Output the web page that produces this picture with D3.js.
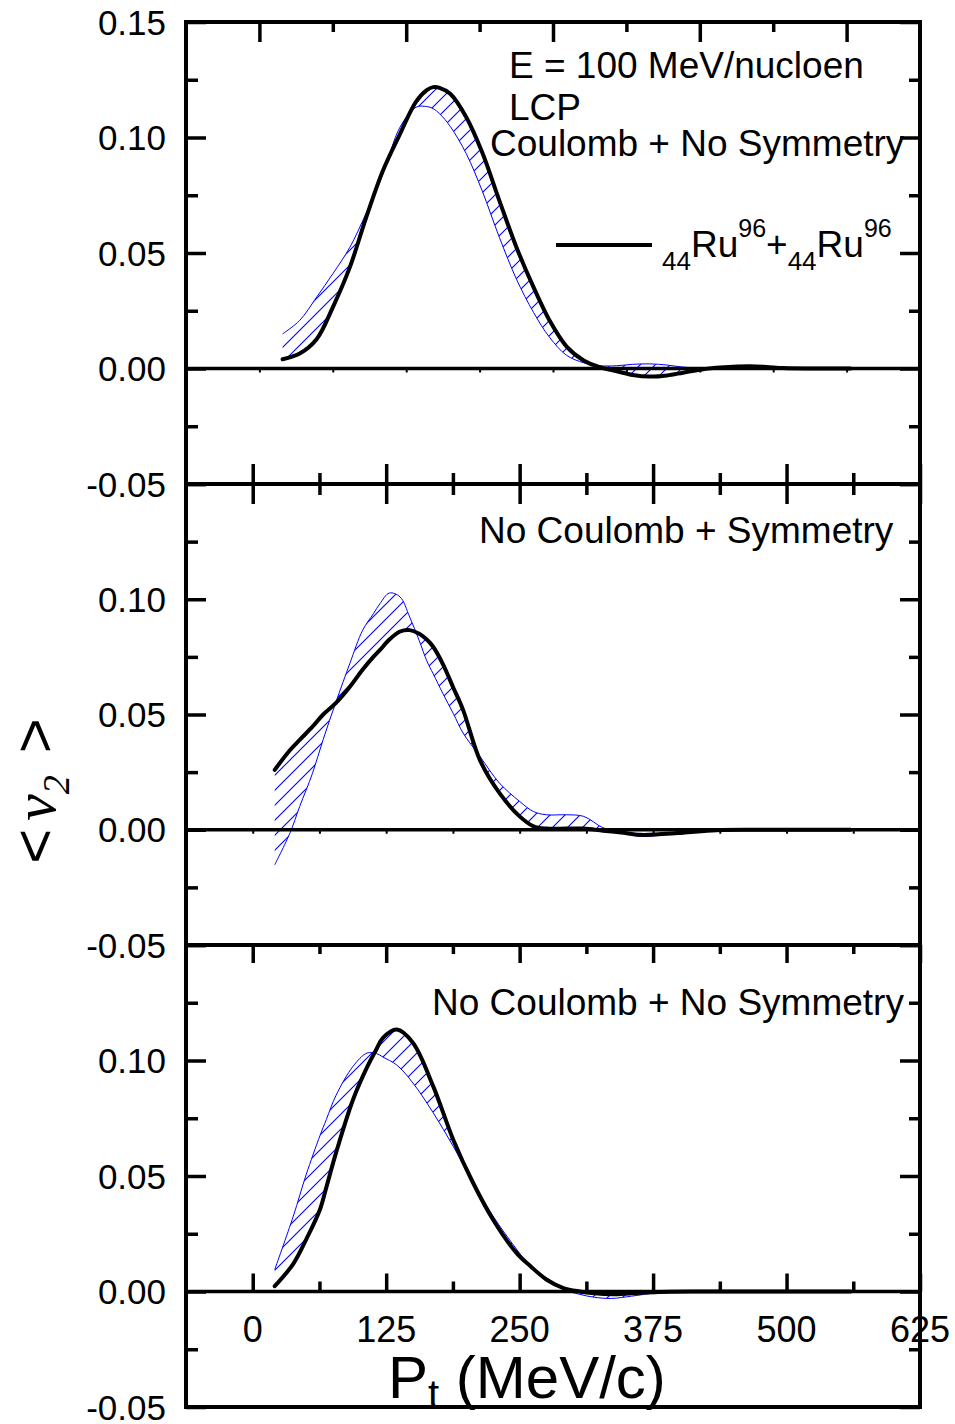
<!DOCTYPE html>
<html>
<head>
<meta charset="utf-8">
<script src="https://cdn.jsdelivr.net/npm/d3@7"></script>
<style>
  body { margin: 0; background: #fff; }
  svg { display: block; }
  text { font-family: 'Liberation Sans', Arial, Helvetica, sans-serif; fill: #000; }
</style>
</head>
<body>
<svg id="chart" width="955" height="1424"></svg>
<script>
// ---- data: transverse momentum (MeV/c) and elliptic flow <v2> ----
// Panel 1: Coulomb + No Symmetry
const ptTop = [28, 44, 60, 75, 91, 106, 122, 138, 153, 163, 169, 175, 185, 200, 215, 231, 247, 263, 278, 294, 310, 325, 341, 356, 372, 388, 403, 419, 434, 450, 466, 481, 497, 520, 560];
const v2SolidTop = [0.0040, 0.0065, 0.0128, 0.0265, 0.0439, 0.0650, 0.0857, 0.1016, 0.1155, 0.1205, 0.1218, 0.1215, 0.1189, 0.1088, 0.0935, 0.0727, 0.0525, 0.0352, 0.0208, 0.0095, 0.0035, 0.0006, -0.0012, -0.0028, -0.0035, -0.0030, -0.0018, -0.0005, 0.0003, 0.0008, 0.0010, 0.0007, 0.0002, 0.0000, 0.0000];
const v2BandTop = [0.0150, 0.0208, 0.0310, 0.0410, 0.0525, 0.0670, 0.0843, 0.1045, 0.1131, 0.1134, 0.1125, 0.1103, 0.1048, 0.0930, 0.0768, 0.0568, 0.0387, 0.0243, 0.0135, 0.0057, 0.0025, 0.0012, 0.0012, 0.0018, 0.0020, 0.0015, 0.0006, 0.0002, 0.0000, 0.0000, 0.0002, 0.0000, 0.0000, 0.0000, 0.0000];

// Panel 2: No Coulomb + Symmetry
const ptMid = [20.6, 35, 44, 56, 66, 78, 91, 103, 113, 119, 128, 138, 147, 156, 163, 169, 178, 188, 197, 213, 231, 250, 263, 275, 294, 310, 328, 345, 363, 380, 403, 434, 470, 500, 560];
const v2SolidMid = [0.0260, 0.0346, 0.0390, 0.0447, 0.0500, 0.0550, 0.0620, 0.0695, 0.0750, 0.0779, 0.0825, 0.0860, 0.0866, 0.0850, 0.0825, 0.0794, 0.0720, 0.0615, 0.0520, 0.0300, 0.0160, 0.0058, 0.0015, 0.0005, 0.0005, 0.0005, -0.0004, -0.0012, -0.0022, -0.0020, -0.0013, -0.0002, 0.0000, 0.0000, 0.0000];
const v2BandMid = [-0.0152, -0.0013, 0.0101, 0.0245, 0.0392, 0.0555, 0.0722, 0.0866, 0.0937, 0.0980, 0.1027, 0.1010, 0.0923, 0.0820, 0.0733, 0.0677, 0.0592, 0.0503, 0.0420, 0.0317, 0.0203, 0.0123, 0.0079, 0.0065, 0.0065, 0.0058, 0.0009, -0.0012, -0.0029, -0.0025, -0.0013, -0.0003, 0.0000, 0.0000, 0.0000];

// Panel 3: No Coulomb + No Symmetry
const ptBot = [20.6, 38, 50, 63, 69, 78, 94, 107, 116, 122, 135, 150, 169, 188, 206, 225, 247, 260, 275, 291, 306, 320, 336, 355, 380, 420, 560];
const v2SolidBot = [0.0023, 0.0120, 0.0225, 0.0355, 0.0452, 0.0600, 0.0831, 0.0970, 0.1050, 0.1098, 0.1134, 0.1077, 0.0889, 0.0655, 0.0474, 0.0312, 0.0167, 0.0110, 0.0052, 0.0015, 0.0000, -0.0008, -0.0012, -0.0008, -0.0002, 0.0000, 0.0000];
const v2BandBot = [0.0095, 0.0326, 0.0505, 0.0675, 0.0745, 0.0849, 0.0975, 0.1032, 0.1030, 0.1015, 0.0980, 0.0903, 0.0774, 0.0627, 0.0476, 0.0327, 0.0184, 0.0110, 0.0060, 0.0009, -0.0012, -0.0025, -0.0030, -0.0020, -0.0005, 0.0000, 0.0000];

// ---- axis ticks and labels ----
const xTickValues = [0, 125, 250, 375, 500, 625];
const xTickLabels = ["0", "125", "250", "375", "500", "625"];
const xMinorValues = [62.5, 187.5, 312.5, 437.5, 562.5];
const yTickValues = [-0.05, 0.00, 0.05, 0.10, 0.15];
const yTickLabels = ["-0.05", "0.00", "0.05", "0.10", "0.15"];
const yMinorValues = [-0.025, 0.025, 0.075, 0.125];
const topMajorValues = [1, 3, 5, 7, 9];
const topMinorValues = [2, 4, 6, 8];

const panelTitles = ["Coulomb + No Symmetry", "No Coulomb + Symmetry", "No Coulomb + No Symmetry"];

// ---- layout ----
const svg = d3.select("#chart");
const left = 186, right = 920;
const edges = [22, 484, 945, 1407];
const BLUE = "#0000ff";
const smooth = d3.curveCatmullRom.alpha(0.5);

const x = d3.scaleLinear().domain([-62.5, 625]).range([left, right]);
const xTop = d3.scaleLinear().domain([0, 10]).range([left, right]);

// diagonal hatch used between the two curves
const defs = svg.append("defs");
defs.append("pattern")
  .attr("id", "hatch")
  .attr("patternUnits", "userSpaceOnUse")
  .attr("width", 15).attr("height", 15)
  .append("path")
  .attr("d", "M-2,2 L2,-2 M0,15 L15,0 M13,17 L17,13")
  .attr("stroke", BLUE).attr("stroke-width", 1.1);

const panels = [
  { pt: ptTop, solid: v2SolidTop, band: v2BandTop, title: panelTitles[0] },
  { pt: ptMid, solid: v2SolidMid, band: v2BandMid, title: panelTitles[1] },
  { pt: ptBot, solid: v2SolidBot, band: v2BandBot, title: panelTitles[2] }
];

const titlePos = [[490, 156], [479, 543], [432, 1015]];

panels.forEach((p, i) => {
  const y = d3.scaleLinear().domain([-0.05, 0.15]).range([edges[i + 1], edges[i]]);
  p.y = y;
  const rows = p.pt.map((v, k) => ({ pt: v, s: p.solid[k], b: p.band[k] }));
  const g = svg.append("g");

  // hatched band between the two calculations
  g.append("path")
    .datum(rows)
    .attr("d", d3.area().curve(smooth)
      .x(d => x(d.pt)).y0(d => y(d.b)).y1(d => y(d.s)))
    .attr("fill", "url(#hatch)");

  g.append("path")
    .datum(rows)
    .attr("d", d3.line().curve(smooth).x(d => x(d.pt)).y(d => y(d.b)))
    .attr("fill", "none").attr("stroke", BLUE).attr("stroke-width", 1);

  // zero line
  g.append("line")
    .attr("x1", left).attr("x2", right)
    .attr("y1", y(0)).attr("y2", y(0))
    .attr("stroke", "#000").attr("stroke-width", 3.5);

  if (i < 2) {
    const sc = i === 0 ? xTop : x;
    const vals = i === 0 ? topMajorValues.concat(topMinorValues) : xTickValues.concat(xMinorValues);
    g.append("g").attr("transform", `translate(0,${y(0)})`)
      .call(d3.axisBottom(sc).tickValues(vals).tickSize(4).tickFormat(""))
      .call(a => a.select(".domain").remove())
      .selectAll("line").attr("stroke-width", 2);
  }

  // main curve
  g.append("path")
    .datum(rows)
    .attr("d", d3.line().curve(smooth).x(d => x(d.pt)).y(d => y(d.s)))
    .attr("fill", "none").attr("stroke", "#000").attr("stroke-width", 4)
    .attr("stroke-linecap", "round").attr("stroke-linejoin", "round");

  // y ticks, left and right, pointing inward
  const tickStyle = sel => {
    sel.select(".domain").remove();
    sel.selectAll("line").attr("stroke", "#000").attr("stroke-width", 3.5);
  };
  svg.append("g").attr("transform", `translate(${left},0)`)
    .call(d3.axisLeft(y).tickValues(yTickValues).tickSize(-20).tickFormat("")).call(tickStyle);
  svg.append("g").attr("transform", `translate(${left},0)`)
    .call(d3.axisLeft(y).tickValues(yMinorValues).tickSize(-12).tickFormat("")).call(tickStyle);
  svg.append("g").attr("transform", `translate(${right},0)`)
    .call(d3.axisRight(y).tickValues(yTickValues).tickSize(-20).tickFormat("")).call(tickStyle);
  svg.append("g").attr("transform", `translate(${right},0)`)
    .call(d3.axisRight(y).tickValues(yMinorValues).tickSize(-11).tickFormat("")).call(tickStyle);

  // y tick labels
  yTickValues.forEach((v, k) => {
    if (i > 0 && v > 0.14) return;
    svg.append("text")
      .attr("x", 166).attr("y", y(v)).attr("dy", "0.36em")
      .attr("text-anchor", "end").attr("font-size", 35)
      .text(yTickLabels[k]);
  });

  // panel title
  svg.append("text")
    .attr("x", titlePos[i][0]).attr("y", titlePos[i][1])
    .attr("font-size", 37).text(p.title);
});

// ---- frame ----
svg.append("rect")
  .attr("x", left).attr("y", edges[0])
  .attr("width", right - left).attr("height", edges[3] - edges[0])
  .attr("fill", "none").attr("stroke", "#000").attr("stroke-width", 4);
[edges[1], edges[2]].forEach(e => {
  svg.append("line").attr("x1", left).attr("x2", right).attr("y1", e).attr("y2", e)
    .attr("stroke", "#000").attr("stroke-width", 4);
});

const xTickStyle = sel => {
  sel.select(".domain").remove();
  sel.selectAll("line").attr("stroke", "#000").attr("stroke-width", 3.5);
};

// top edge of first panel
svg.append("g").attr("transform", `translate(0,${edges[0]})`)
  .call(d3.axisBottom(xTop).tickValues(topMajorValues).tickSize(20).tickFormat("")).call(xTickStyle);
svg.append("g").attr("transform", `translate(0,${edges[0]})`)
  .call(d3.axisBottom(xTop).tickValues(topMinorValues).tickSize(10).tickFormat("")).call(xTickStyle);

// shared edge between panels 1 and 2: ticks on both sides
[d3.axisBottom, d3.axisTop].forEach(ax => {
  svg.append("g").attr("transform", `translate(0,${edges[1]})`)
    .call(ax(x).tickValues(xTickValues).tickSize(20).tickFormat("")).call(xTickStyle);
  svg.append("g").attr("transform", `translate(0,${edges[1]})`)
    .call(ax(x).tickValues(xMinorValues).tickSize(11).tickFormat("")).call(xTickStyle);
});

// shared edge between panels 2 and 3: ticks into the lower panel
svg.append("g").attr("transform", `translate(0,${edges[2]})`)
  .call(d3.axisBottom(x).tickValues(xTickValues).tickSize(18).tickFormat("")).call(xTickStyle);
svg.append("g").attr("transform", `translate(0,${edges[2]})`)
  .call(d3.axisBottom(x).tickValues(xMinorValues).tickSize(9).tickFormat("")).call(xTickStyle);

// x axis drawn along zero of the lowest panel
const yBot = panels[2].y;
svg.append("g").attr("transform", `translate(0,${yBot(0)})`)
  .call(d3.axisTop(x).tickValues(xTickValues).tickSize(18).tickFormat("")).call(xTickStyle);
svg.append("g").attr("transform", `translate(0,${yBot(0)})`)
  .call(d3.axisTop(x).tickValues(xMinorValues).tickSize(10).tickFormat("")).call(xTickStyle);

xTickValues.forEach((v, k) => {
  svg.append("text")
    .attr("x", x(v)).attr("y", 1342)
    .attr("text-anchor", "middle").attr("font-size", 36)
    .text(xTickLabels[k]);
});

// axis titles
const xt = svg.append("text").attr("x", 388).attr("y", 1398).attr("font-size", 60);
xt.append("tspan").text("P");
xt.append("tspan").attr("font-size", 40).attr("dy", 10).text("t");
xt.append("tspan").attr("dy", -10).text(" (MeV/c)");

const yt = svg.append("text")
  .attr("transform", "translate(55,791) rotate(-90)")
  .attr("text-anchor", "middle").attr("font-size", 60);
yt.append("tspan").text("<");
yt.append("tspan").attr("dx", 8)
  .style("font-family", "'Liberation Serif', 'Times New Roman', serif")
  .attr("font-style", "italic").text("ν");
yt.append("tspan").attr("font-size", 38).attr("dy", 14)
  .style("font-family", "'Liberation Serif', 'Times New Roman', serif")
  .attr("font-style", "italic").text("2");
yt.append("tspan").attr("dx", 22).attr("dy", -14).text(">");

// ---- annotations and key ----
svg.append("text").attr("x", 509).attr("y", 78).attr("font-size", 37).text("E = 100 MeV/nucloen");
svg.append("text").attr("x", 509).attr("y", 120).attr("font-size", 37).text("LCP");

svg.append("line").attr("x1", 556).attr("x2", 652).attr("y1", 245).attr("y2", 245)
  .attr("stroke", "#000").attr("stroke-width", 4);
const key = svg.append("text").attr("x", 662).attr("y", 257).attr("font-size", 37);
key.append("tspan").attr("font-size", 26).attr("dy", 13).text("44");
key.append("tspan").attr("dy", -13).text("Ru");
key.append("tspan").attr("font-size", 25).attr("dy", -20).text("96");
key.append("tspan").attr("dy", 20).text("+");
key.append("tspan").attr("font-size", 26).attr("dy", 13).text("44");
key.append("tspan").attr("dy", -13).text("Ru");
key.append("tspan").attr("font-size", 25).attr("dy", -20).text("96");
</script>
</body>
</html>
